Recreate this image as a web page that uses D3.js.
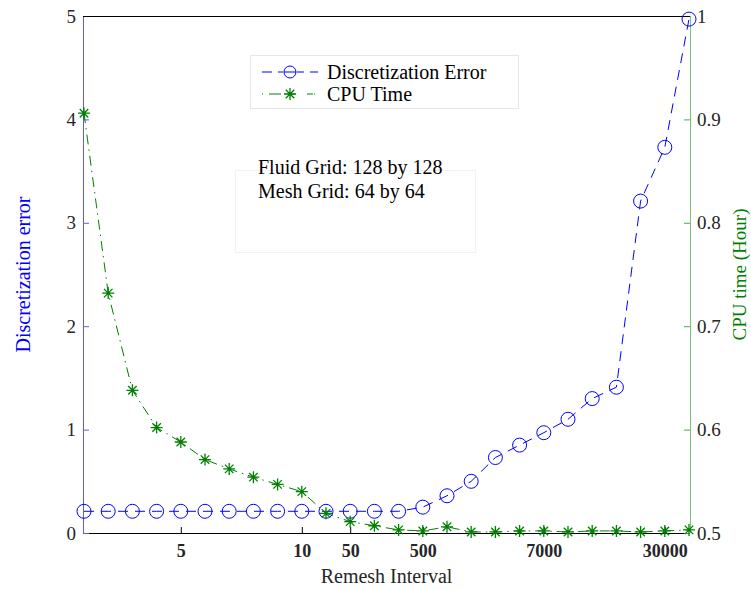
<!DOCTYPE html>
<html>
<head>
<meta charset="utf-8">
<script src="https://cdn.jsdelivr.net/npm/d3@7"></script>
<style>
  body { margin: 0; background: #fff; }
  text { font-family: "Liberation Serif", "DejaVu Serif", serif; }
</style>
</head>
<body>
<div id="container"></div>
<script>
// --- data ---
var runIndex = [1, 2, 3, 4, 5, 6, 7, 8, 9, 10, 11, 12, 13, 14, 15, 16, 17, 18, 19, 20, 21, 22, 23, 24, 25, 26];
var discError = [0.21, 0.21, 0.21, 0.21, 0.21, 0.21, 0.21, 0.21, 0.21, 0.21, 0.21, 0.21, 0.21, 0.21,
                 0.25, 0.36, 0.50, 0.73, 0.85, 0.97, 1.10, 1.30, 1.41, 3.21, 3.73, 4.97];
var cpuTime = [0.906, 0.732, 0.638, 0.602, 0.588, 0.571, 0.562, 0.554, 0.547, 0.540, 0.519, 0.511, 0.507,
               0.503, 0.502, 0.506, 0.501, 0.501, 0.502, 0.502, 0.501, 0.502, 0.502, 0.501, 0.502, 0.503];
var xTickPos = [5, 10, 12, 15, 20, 25];
var xTickLabels = ["5", "10", "50", "500", "7000", "30000"];
var leftTicks = [0, 1, 2, 3, 4, 5];
var rightTicks = [0.5, 0.6, 0.7, 0.8, 0.9, 1];
var infoLines = ["Fluid Grid: 128 by 128", "Mesh Grid: 64 by 64"];

var svgWidth = 751, svgHeight = 590;
var margin = { top: 16, right: 61, bottom: 57, left: 83 },
    width = svgWidth - margin.left - margin.right,
    height = svgHeight - margin.top - margin.bottom;

var blue = "#0000ff", green = "#008000", tickText = "#262626";
var labelSize = "20px", tickSize = "19px";

var svg = d3.select("div#container")
    .append("svg")
    .attr("width", svgWidth)
    .attr("height", svgHeight)
    .append("g")
    .attr("transform", "translate(" + margin.left + "," + margin.top + ")");

// --- SCALES ---
var x = d3.scaleLinear().domain([1, 26]).range([1, width - 1]);
var yL = d3.scaleLinear().domain([0, 5]).range([height, 0]);
var yR = d3.scaleLinear().domain([0.5, 1]).range([height, 0]);

// --- AXES ---
var xAxis = svg.append("g")
    .attr("transform", "translate(0," + height + ")")
    .call(d3.axisBottom(x).tickValues(xTickPos)
        .tickFormat((d, i) => xTickLabels[i]).tickSize(-6).tickPadding(11));
xAxis.select(".domain").attr("stroke", "#000").attr("d", "M0,0.5H" + width);
xAxis.selectAll(".tick line").attr("stroke", "#000");
xAxis.selectAll("text").attr("fill", tickText).style("font-size", "18px").style("font-weight", "bold");

var lAxis = svg.append("g")
    .call(d3.axisLeft(yL).tickValues(leftTicks).tickFormat(d3.format("d")).tickSize(-6).tickPadding(7));
lAxis.select(".domain").attr("stroke", "#5a5aff").attr("d", "M0.5," + height + "V0");
lAxis.selectAll(".tick line").attr("stroke", "#5a5aff");
lAxis.selectAll("text").attr("fill", tickText).style("font-size", tickSize);

var rAxis = svg.append("g")
    .attr("transform", "translate(" + width + ",0)")
    .call(d3.axisRight(yR).tickValues(rightTicks).tickFormat(d => d === 1 ? "1" : d3.format(".1f")(d)).tickSize(-6).tickPadding(7));
rAxis.select(".domain").attr("stroke", "#7cc17c").attr("d", "M0.5," + height + "V0");
rAxis.selectAll(".tick line").attr("stroke", "#4fa84f");
rAxis.selectAll("text").attr("fill", tickText).style("font-size", tickSize);

// top box edge
svg.append("line")
    .attr("x1", 0).attr("x2", width).attr("y1", 0.5).attr("y2", 0.5)
    .attr("stroke", "#000").attr("stroke-width", 1);

// --- axis titles ---
svg.append("text")
    .attr("transform", "translate(" + (-53) + "," + (height / 2) + ") rotate(-90)")
    .attr("text-anchor", "middle")
    .attr("fill", blue)
    .style("font-size", labelSize)
    .text("Discretization error");

svg.append("text")
    .attr("transform", "translate(" + (width + 56) + "," + (height / 2) + ") rotate(-90)")
    .attr("text-anchor", "middle")
    .attr("fill", green)
    .style("font-size", "19px")
    .text("CPU time (Hour)");

svg.append("text")
    .attr("x", width / 2)
    .attr("y", height + 50)
    .attr("text-anchor", "middle")
    .attr("fill", tickText)
    .style("font-size", labelSize)
    .text("Remesh Interval");

// --- marker helpers ---
function drawAsterisk(g, cx, cy, r) {
    var a = r * Math.SQRT1_2;
    var p = "M" + (cx - r) + "," + cy + "H" + (cx + r) +
            "M" + cx + "," + (cy - r) + "V" + (cy + r) +
            "M" + (cx - a) + "," + (cy - a) + "L" + (cx + a) + "," + (cy + a) +
            "M" + (cx - a) + "," + (cy + a) + "L" + (cx + a) + "," + (cy - a);
    g.append("path").attr("d", p).attr("stroke", green).attr("stroke-width", 1.3).attr("fill", "none");
}

// --- LINES ---
var errLine = d3.line().x((d, i) => x(runIndex[i])).y(d => yL(d));
var cpuLine = d3.line().x((d, i) => x(runIndex[i])).y(d => yR(d));

svg.append("path")
    .datum(discError)
    .attr("d", errLine)
    .attr("fill", "none")
    .attr("stroke", blue)
    .attr("stroke-width", 1)
    .attr("stroke-dasharray", "10,7");

svg.append("path")
    .datum(cpuTime)
    .attr("d", cpuLine)
    .attr("fill", "none")
    .attr("stroke", green)
    .attr("stroke-width", 1)
    .attr("stroke-dasharray", "10,5,1.5,5");

svg.selectAll("circle.err")
    .data(discError)
    .enter()
    .append("circle")
    .attr("class", "err")
    .attr("cx", (d, i) => x(runIndex[i]))
    .attr("cy", d => yL(d))
    .attr("r", 7)
    .attr("fill", "none")
    .attr("stroke", blue)
    .attr("stroke-width", 1);

var stars = svg.append("g");
cpuTime.forEach(function (d, i) {
    drawAsterisk(stars, x(runIndex[i]), yR(d), 6);
});

// --- LEGEND ---
var leg = svg.append("g").attr("transform", "translate(" + (250 - margin.left) + "," + (55 - margin.top) + ")");
leg.append("rect")
    .attr("x", 0.5).attr("y", 0.5).attr("width", 268).attr("height", 53)
    .attr("fill", "#fff").attr("stroke", "#e6e6e6");

leg.append("line").attr("x1", 12).attr("x2", 68).attr("y1", 17).attr("y2", 17)
    .attr("stroke", blue).attr("stroke-dasharray", "10,6").attr("stroke-dashoffset", 0);
leg.append("rect").attr("x", 33).attr("y", 9).attr("width", 14).attr("height", 16).attr("fill", "#fff");
leg.append("circle").attr("cx", 40).attr("cy", 17).attr("r", 6).attr("fill", "none").attr("stroke", blue);
leg.append("line").attr("x1", 34).attr("x2", 46).attr("y1", 17).attr("y2", 17).attr("stroke", blue);
leg.append("text").attr("x", 77).attr("y", 24).attr("fill", "#000").style("font-size", labelSize).text("Discretization Error");

leg.append("line").attr("x1", 12).attr("x2", 68).attr("y1", 39).attr("y2", 39)
    .attr("stroke", green).attr("stroke-dasharray", "1,6,12,6,1");
drawAsterisk(leg, 40, 39, 6);
leg.append("text").attr("x", 77).attr("y", 46).attr("fill", "#000").style("font-size", labelSize).text("CPU Time");

// --- annotation box ---
var info = svg.append("g").attr("transform", "translate(" + (235 - margin.left) + "," + (170 - margin.top) + ")");
info.append("rect")
    .attr("x", 0.5).attr("y", 0.5).attr("width", 240).attr("height", 82)
    .attr("fill", "none").attr("stroke", "#f2f2f2");
info.selectAll("text.info")
    .data(infoLines)
    .enter()
    .append("text")
    .attr("class", "info")
    .attr("x", 23)
    .attr("y", (d, i) => 4 + i * 24)
    .attr("fill", "#000")
    .style("font-size", labelSize)
    .text(d => d);
</script>
</body>
</html>
